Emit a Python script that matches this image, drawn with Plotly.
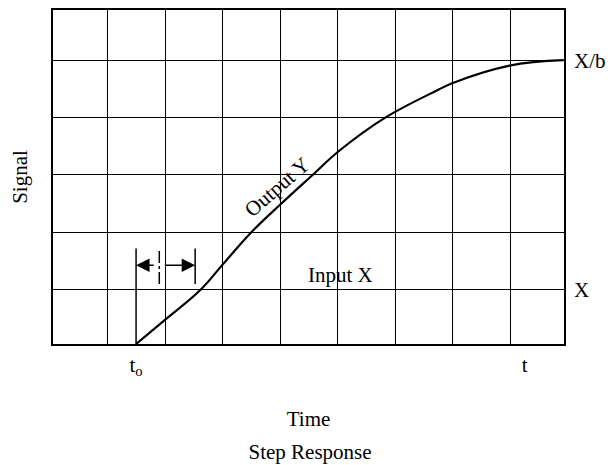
import plotly.graph_objects as go

# Step response of the output (grid units: one cell = 1)
time_pts = [1.492, 1.995, 2.60, 3.005, 3.485, 4.010, 4.553, 5.016, 5.813, 6.749, 6.991, 7.991, 8.93]
output_y = [0.054, 0.474, 0.985, 1.446, 1.990, 2.493, 2.991, 3.413, 3.991, 4.484, 4.599, 4.906, 5.000]

# Axis extents and markers
x_range = [0.047, 8.936]
y_range = [0.054, 5.875]
time_tick_vals = [1.492, 8.25]
time_tick_text = ["t<sub>o</sub>", "t"]
signal_tick_vals = [1, 5]
signal_tick_text = ["X", "X/b"]

# Dead-time interval marker
t_start = 1.492
t_end = 2.52
t_mid = 1.896
arrow_level = 1.425
bracket_top = 1.72
bracket_bottom = 1.10

FONT = "Liberation Serif"
FS = 21
txt = dict(family=FONT, size=FS, color="black")

fig = go.Figure()
fig.add_trace(go.Scatter(
    x=time_pts, y=output_y, mode="lines",
    line=dict(color="black", width=2.2, shape="spline", smoothing=1.1),
    showlegend=False, hoverinfo="skip",
))
# invisible trace to attach the secondary axes
fig.add_trace(go.Scatter(x=[None], y=[None], xaxis="x2", yaxis="y2", showlegend=False))

grid = dict(showgrid=True, gridcolor="black", gridwidth=1.3, zeroline=False,
            showline=True, linecolor="black", linewidth=1.5, mirror=True,
            showticklabels=False, ticks="", dtick=1, tick0=0)

fig.update_layout(
    width=614, height=465,
    margin=dict(l=53, r=48, t=8, b=121),
    paper_bgcolor="white", plot_bgcolor="white",
    font=txt,
    xaxis=dict(range=x_range, **grid),
    yaxis=dict(range=y_range, title=dict(text="Signal", standoff=18, font=txt), **grid),
    xaxis2=dict(range=x_range, overlaying="x", side="bottom", anchor="y",
                tickvals=time_tick_vals, ticktext=time_tick_text, showgrid=False,
                zeroline=False, ticks="", ticklabelstandoff=6, tickfont=txt,
                title=dict(text="Time", standoff=32, font=txt)),
    yaxis2=dict(range=y_range, overlaying="y", side="right", anchor="x",
                tickvals=signal_tick_vals, ticktext=signal_tick_text, showgrid=False,
                zeroline=False, ticks="", ticklabelstandoff=9, tickfont=txt),
    title=dict(text="Step Response", x=0.505, xanchor="center",
               y=0.012, yref="container", yanchor="bottom", font=txt),
)

line_style = dict(color="black", width=1.5)
fig.add_shape(type="line", x0=t_start, x1=t_start, y0=output_y[0], y1=bracket_top, line=line_style)
fig.add_shape(type="line", x0=t_end, x1=t_end, y0=bracket_bottom, y1=bracket_top, line=line_style)
fig.add_shape(type="line", x0=t_mid, x1=t_mid, y0=bracket_bottom, y1=bracket_top,
              line=dict(color="black", width=1.5, dash="12px,3px,3px,3px"))

for head, tail in [(t_start, t_mid - 0.07), (t_end, t_mid + 0.07)]:
    fig.add_annotation(x=head, y=arrow_level, ax=tail, ay=arrow_level,
                       xref="x", yref="y", axref="x", ayref="y",
                       text="", showarrow=True, arrowhead=2, arrowsize=1.8,
                       arrowwidth=1.5, arrowcolor="black", standoff=0)

fig.add_annotation(x=5.045, y=1.26, xref="x", yref="y", text="Input X",
                   showarrow=False, font=txt)
fig.add_annotation(x=3.946, y=2.793, xref="x", yref="y", text="Output Y",
                   textangle=-41, showarrow=False, font=txt)

fig.write_html("out.html")
